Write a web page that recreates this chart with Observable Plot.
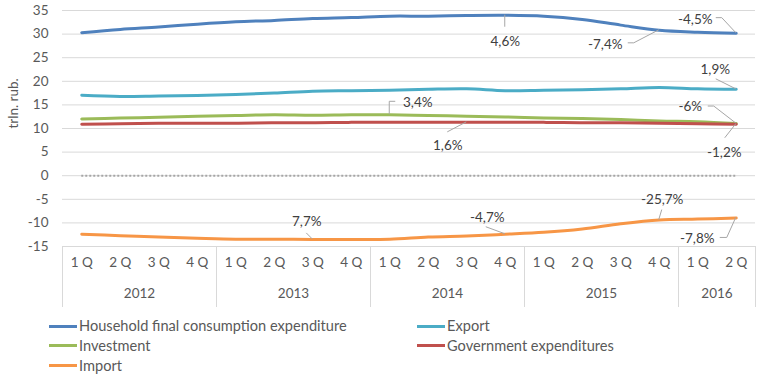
<!DOCTYPE html>
<html><head><meta charset="utf-8">
<script src="https://cdn.jsdelivr.net/npm/d3@7"></script>
<script src="https://cdn.jsdelivr.net/npm/@observablehq/plot@0.6"></script>
<style>
body{margin:0;background:#fff;}
#wrap{position:relative;width:763px;height:381px;font-family:Lato,"Open Sans",sans-serif;color:#595959;overflow:hidden;}
.leg{position:absolute;font-size:14.6px;line-height:16px;white-space:nowrap;color:#595959;}
.sw{position:absolute;height:3px;}
</style></head><body><div id="wrap"></div>
<script>
// ---- data ----
const years = ["2012","2013","2014","2015","2016"];
const quartersPerYear = [4,4,4,4,2];
const quarterLabels = ["1 Q","2 Q","3 Q","4 Q"];
const yTicks = [-15,-10,-5,0,5,10,15,20,25,30,35];
const seriesNames = ["Household final consumption expenditure","Export","Investment","Government expenditures","Import"];
const seriesColors = ["#4F81BD","#4BACC6","#9BBB59","#C0504D","#F79646"];
const household = [30.3,31.0,31.5,32.1,32.6,32.9,33.3,33.5,33.8,33.8,33.95,34.0,33.8,33.1,31.9,30.8,30.4,30.2];
const exportV   = [17.05,16.8,16.9,17.0,17.2,17.5,17.9,18.0,18.1,18.3,18.4,18.0,18.1,18.2,18.4,18.7,18.4,18.3];
const investment= [12.0,12.2,12.4,12.6,12.75,12.9,12.8,12.9,12.9,12.75,12.6,12.45,12.25,12.1,11.9,11.6,11.45,11.05];
const government= [10.9,11.0,11.1,11.1,11.1,11.2,11.2,11.3,11.3,11.3,11.3,11.3,11.3,11.2,11.2,11.1,11.0,10.9];
const importV   = [-12.4,-12.7,-13.0,-13.25,-13.45,-13.45,-13.5,-13.5,-13.45,-13.0,-12.75,-12.4,-12.0,-11.3,-10.2,-9.4,-9.2,-8.95];
const annotSeries = [0,0,0,1,2,3,2,3,4,4,4,4];
const annotIndex  = [11,15,17,17,17,17,8,10,6,11,15,17];
const annotLabels = ["4,6%","-7,4%","-4,5%","1,9%","-6%","-1,2%","3,4%","1,6%","7,7%","-4,7%","-25,7%","-7,8%"];

// ---- layout of annotation labels (px offsets from the point) ----
const annotLayout = [
  {dx:0,dy:26,lead:[[0,0],[0,12]]},
  {dx:-54,dy:14,lead:[[0,0],[-25,13],[-31,13]]},
  {dx:-41,dy:-13,lead:[[0,0],[-14,-15],[-20,-15]]},
  {dx:-21,dy:-20,lead:[[0,0],[-20,-10]]},
  {dx:-46,dy:-17,lead:[[0,0],[-22,-17],[-28,-17]]},
  {dx:-12,dy:28,lead:[[0,0],[-11,14]]},
  {dx:28,dy:-12,lead:[[0,0],[0,-13],[6,-13]]},
  {dx:-19,dy:23,lead:[[0,0],[-19,10]]},
  {dx:-6,dy:-18,lead:[[0,0],[-6,-6]]},
  {dx:-18,dy:-17,lead:[[0,0],[-19,-7]]},
  {dx:3,dy:-20,lead:[[0,0],[3,-10]]},
  {dx:-39,dy:21,lead:[[0,0],[-9,20],[-16,20]]}
];

// ---- build tables ----
const values = [household, exportV, investment, government, importV];
const periods = [];
const yearData = [];
const bounds = [-0.5];
years.forEach((y, k) => {
  const start = periods.length;
  for (let q = 0; q < quartersPerYear[k]; q++) periods.push({i: periods.length, year: y, q: quarterLabels[q]});
  yearData.push({year: y, mid: (start + periods.length - 1) / 2});
  bounds.push(periods.length - 0.5);
});
const rows = [];
values.forEach((arr, s) => arr.forEach((v, i) => rows.push({s, i, v})));
const annots = annotLabels.map((label, k) => ({
  label, i: annotIndex[k], v: values[annotSeries[k]][annotIndex[k]], ...annotLayout[k]
}));

function leaders(index, {x, y}) {
  const g = d3.create("svg:g").attr("fill","none").attr("stroke","#a6a6a6").attr("stroke-width",1);
  for (const a of annots) {
    const px = x(a.i), py = y(a.v);
    g.append("polyline").attr("points", a.lead.map(([dx,dy]) => `${px+dx},${py+dy}`).join(" "));
  }
  return g.node();
}

const H = 310, MT = 10, MB = 64;
const plot = Plot.plot({
  width: 763, height: H,
  marginLeft: 62, marginRight: 8, marginTop: MT, marginBottom: MB,
  style: {fontFamily: "Lato, 'Open Sans', sans-serif", fontSize: "13.5px", color: "#595959", background: "#fff"},
  x: {domain: [-0.5, periods.length - 0.5], axis: null},
  y: {domain: [yTicks[0], yTicks[yTicks.length-1]], ticks: 10, tickSize: 0, tickPadding: 14, label: null, tickFormat: d => String(d)},
  marks: [
    Plot.ruleY(yTicks, {stroke: "#d9d9d9", strokeWidth: 1}),
    Plot.ruleX(bounds, {stroke: "#d9d9d9", strokeWidth: 1, insetTop: H - MT - MB, insetBottom: -61}),
    Plot.ruleY([0], {x1: periods[0].i, x2: periods[periods.length-1].i, stroke: "#a6a6a6", strokeWidth: 2, strokeDasharray: "2,2"}),
    Plot.line(rows, {x: "i", y: "v", z: "s", stroke: d => seriesColors[d.s], strokeWidth: 3, curve: "catmull-rom"}),
    leaders,
    ...annots.map(a => Plot.text([a], {x: "i", y: "v", text: "label", dx: a.dx, dy: a.dy, fill: "#404040", fontSize: 13.5})),
    Plot.text(periods, {x: "i", text: "q", frameAnchor: "bottom", dy: 20, fill: "#595959", fontSize: 13.5}),
    Plot.text(yearData, {x: "mid", text: "year", frameAnchor: "bottom", dy: 51, fill: "#595959", fontSize: 13.5}),
    Plot.text(["trln. rub."], {frameAnchor: "left", rotate: -90, dx: -49, fill: "#595959", fontSize: 13.5})
  ]
});
document.getElementById("wrap").appendChild(plot);

// legend
const wrap = document.getElementById("wrap");
const legPos = [[49,326],[417,326],[49,345.5],[417,345.5],[49,365.5]];
seriesNames.forEach((name, s) => {
  const [lx, ly] = legPos[s];
  const sw = document.createElement("div");
  sw.className = "sw"; sw.style.left = lx + "px"; sw.style.top = (ly - 1.5) + "px";
  sw.style.width = "28px"; sw.style.background = seriesColors[s];
  wrap.appendChild(sw);
  const t = document.createElement("div");
  t.className = "leg"; t.style.left = (lx + 30) + "px"; t.style.top = (ly - 8) + "px";
  t.textContent = name;
  wrap.appendChild(t);
});
</script></body></html>
